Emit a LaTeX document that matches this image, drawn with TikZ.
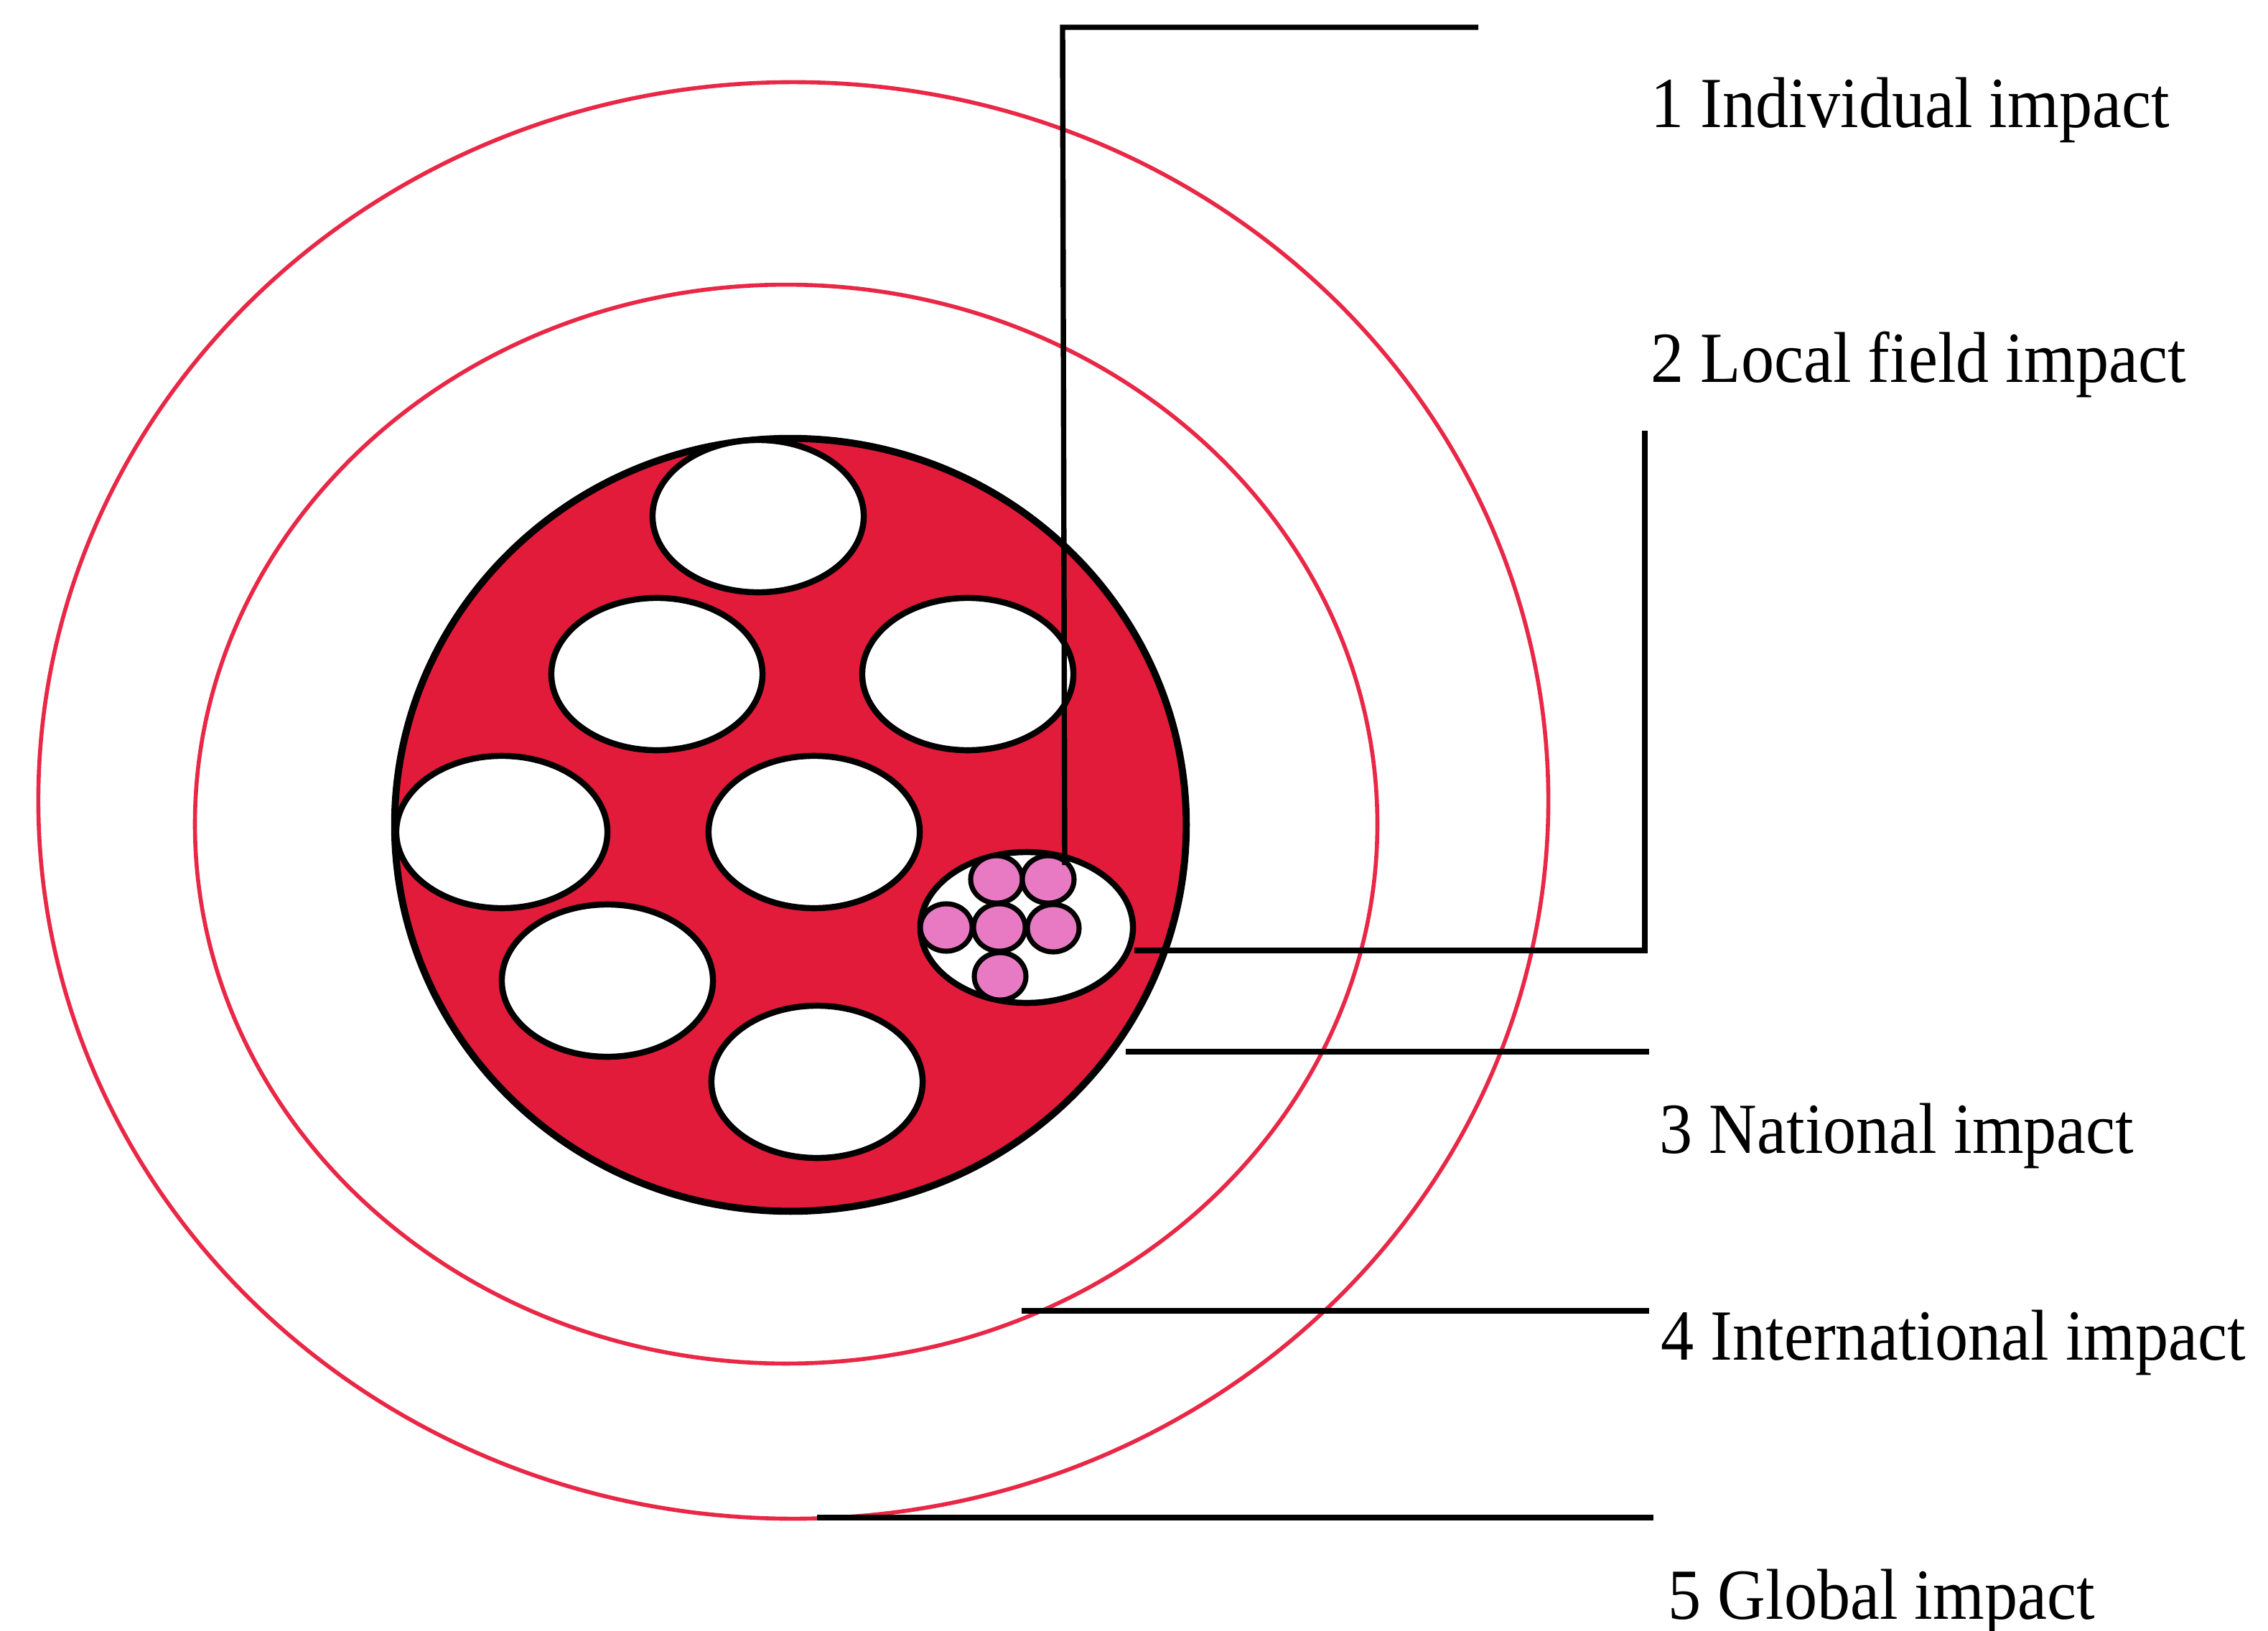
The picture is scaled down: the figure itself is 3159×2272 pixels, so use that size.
\documentclass[tikz,border=0pt]{standalone}
\usepackage{fontspec}
\setmainfont{Liberation Serif}[FakeStretch=0.92]
\usetikzlibrary{shapes.geometric}
\definecolor{ringred}{RGB}{232,40,70}
\definecolor{fillred}{RGB}{226,27,58}
\definecolor{pinkc}{RGB}{232,122,196}
\begin{document}
\begin{tikzpicture}[x=0.01cm,y=-0.01cm,
  ring/.style={ellipse, draw=ringred, line width=1.6pt, inner sep=0pt},
  hole/.style={ellipse, draw=black, line width=2.4pt, fill=white, minimum width=2.94cm, minimum height=2.12cm, inner sep=0pt},
  dot/.style={ellipse, draw=black, line width=2pt, fill=pinkc, minimum width=0.72cm, minimum height=0.66cm, inner sep=0pt},
  leader/.style={draw=black, line width=2.1pt},
  lbl/.style={anchor=base west, inner sep=0pt, font=\fontsize{28.5}{30}\selectfont}]
\fill[white] (0,0) rectangle (3159,2272);
\useasboundingbox (0,0) rectangle (3159,2272);
% rings
\node[ring, minimum width=21.02cm, minimum height=20cm] (global) at (1105,1115) {};
\node[ring, minimum width=16.46cm, minimum height=15.02cm] (intl) at (1095,1148) {};
\node[ellipse, draw=black, line width=2.8pt, fill=fillred, inner sep=0pt, minimum width=11.02cm, minimum height=10.76cm] (nat) at (1101,1149) {};
% holes
\node[hole] (h1) at (1056,719) {};
\node[hole] (h2) at (915,939) {};
\node[hole] (h3) at (1348,939) {};
\node[hole] (h4) at (699,1159) {};
\node[hole] (h5) at (1134,1159) {};
\node[hole] (h6) at (846,1366) {};
\node[hole] (h7) at (1138,1507) {};
\node[hole, minimum width=2.96cm, minimum height=2.1cm] (cell) at (1430,1292) {};
% individuals
\node[dot] (p1) at (1388,1225) {};
\node[dot] (p2) at (1460,1225) {};
\node[dot] (p3) at (1318,1292) {};
\node[dot] (p4) at (1392,1292) {};
\node[dot] (p5) at (1467,1293) {};
\node[dot] (p6) at (1393,1360) {};
% leader lines
\coordinate (a1) at (1483,1205);
\coordinate (b1) at (1480,38);
\coordinate (c1) at (2059,38);
\draw[leader] (a1) -- (b1) -- (c1);
\coordinate (a2) at (1580,1324);
\coordinate (b2) at (2291,1324);
\coordinate (c2) at (2291,600);
\draw[leader] (a2) -- (b2) -- (c2);
\coordinate (a3) at (1568,1465);
\coordinate (b3) at (2297,1465);
\draw[leader] (a3) -- (b3);
\coordinate (a4) at (1423,1826);
\coordinate (b4) at (2297,1826);
\draw[leader] (a4) -- (b4);
\coordinate (a5) at (1138,2114);
\coordinate (b5) at (2303,2114);
\draw[leader] (a5) -- (b5);
% labels
\node[lbl] (t1) at (2299,177) {1 Individual impact};
\node[lbl] (t2) at (2299,532) {2 Local field impact};
\node[lbl] (t3) at (2311,1606) {3 National impact};
\node[lbl] (t4) at (2313,1894) {4 International impact};
\node[lbl] (t5) at (2323,2255) {5 Global impact};
\end{tikzpicture}
\end{document}
